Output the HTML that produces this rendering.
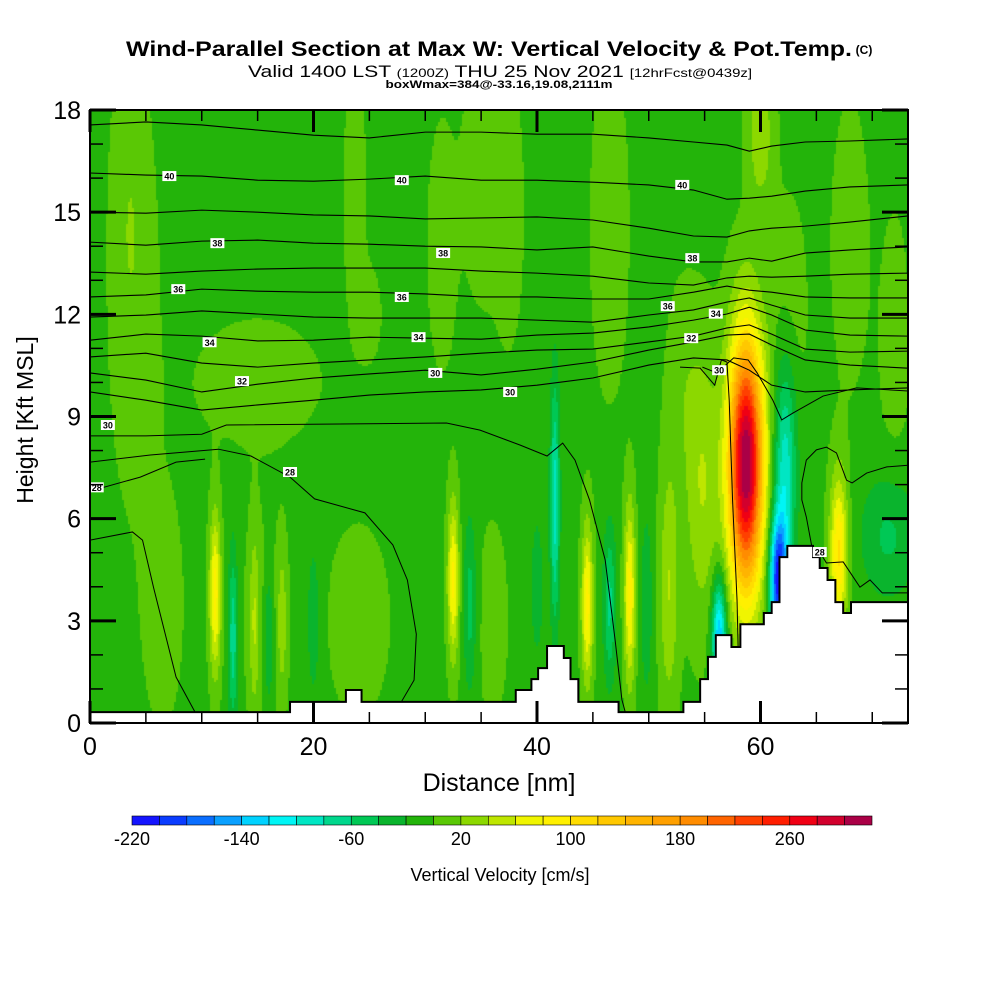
<!DOCTYPE html>
<html><head><meta charset="utf-8">
<style>
html,body{margin:0;padding:0;background:#fff;}
#wrap{position:relative;width:1000px;height:1000px;overflow:hidden;font-family:"Liberation Sans",sans-serif;}
#field{position:absolute;left:90px;top:110px;}
#ov{position:absolute;left:0;top:0;}
</style></head>
<body>
<div id="wrap">
<canvas id="field" width="818" height="613"></canvas>
<svg id="ov" width="1000" height="1000" xmlns="http://www.w3.org/2000/svg">
<text x="489" y="56" text-anchor="middle" font-size="21" font-weight="bold" textLength="726" lengthAdjust="spacingAndGlyphs">Wind-Parallel Section at Max W: Vertical Velocity &amp; Pot.Temp.</text>
<text x="864" y="54" text-anchor="middle" font-size="12" font-weight="bold">(C)</text>
<text x="500" y="77" text-anchor="middle" font-size="17" textLength="504" lengthAdjust="spacingAndGlyphs">Valid 1400 LST <tspan font-size="12">(1200Z)</tspan> THU 25 Nov 2021 <tspan font-size="12">[12hrFcst@0439z]</tspan></text>
<text x="499" y="88" text-anchor="middle" font-size="11" font-weight="bold" textLength="227" lengthAdjust="spacingAndGlyphs">boxWmax=384@-33.16,19.08,2111m</text>
<g id="plot" clip-path="url(#pc)"></g>
<clipPath id="pc"><rect x="90" y="110" width="818" height="613"/></clipPath>
<g id="axes"></g>
<text transform="translate(33,420) rotate(-90)" text-anchor="middle" font-size="23">Height [Kft MSL]</text>
<text x="499" y="791" text-anchor="middle" font-size="25">Distance [nm]</text>
<g id="cbar"></g>
<text x="500" y="881" text-anchor="middle" font-size="18">Vertical Velocity [cm/s]</text>
</svg>
</div>
<script>
// ---- data ----
const xTicks=[0,20,40,60];
const yTicks=[0,3,6,9,12,15,18];
const cbarLevels=[-220,-200,-180,-160,-140,-120,-100,-80,-60,-40,-20,0,20,40,60,80,100,120,140,160,180,200,220,240,260,280,300,320];
const cbarLabels=[-220,-140,-60,20,100,180,260];
const palette=["#1414ff","#0a3cff","#0a6eff","#0aa0ff","#00d2ff","#00f5f5","#00e6c3","#00d78c","#00c855","#0ab42d","#23b40a","#5ac805","#8cd800","#bee600","#f0f500","#fff000","#ffdc00","#ffc800","#ffb400","#ffa000","#ff8c00","#ff6400","#ff4000","#ff1e00","#f00014","#d2002d","#aa0046"];
const baseW=-5;
// features: x nm, z kft, sx, sz, amplitude cm/s
const featX=[3.5,4,23.7,25,31.5,35,15,37.5,46.5,60,62.5,68,72,53, 6.5,15.5,24,36, 11.2,14.7,17.2,32.5,44.5,48.3,51.8,54.8, 12.8,16,20,34,41.6,40,46.5,49.8, 58.7,61.6,62.2,56.3,67,71.5];
const featZ=[15.5,12,15.5,12,14,16,10,15,14.5,17.3,12,14,11,10, 3.5,3,3,3, 3.8,3,3,4.2,3.5,3.8,4,7, 2.5,2.5,3,3.5,6.5,4,3.5,3.5, 7.6,4.2,7.5,2.5,5,5.5];
const featSX=[1.0,1.5,0.7,0.8,0.9,1.2,4,1.0,1.2,0.8,1.2,1.2,1.0,1.0, 1.3,1.5,2,1.2, 0.35,0.3,0.3,0.35,0.35,0.35,0.6,1.1, 0.3,0.3,0.5,0.4,0.3,0.4,0.4,0.4, 1.1,0.55,0.7,0.45,0.55,1.8];
const featSZ=[3,4,2.5,1,2.5,2.5,1.3,3,3.5,1.5,2.5,3,3,2, 2.5,2.5,2,2.5, 1.6,1.8,1.5,1.6,1.6,1.8,2.5,2.8, 1.8,1.5,2,1.8,2.5,1.5,1.6,2, 2.6,1.3,2.2,1.2,1.6,1.3];
const featA=[15,15,15,12,15,15,14,12,15,40,14,14,12,15, 14,10,14,10, 95,40,35,90,95,95,45,45, -70,-40,-25,-45,-85,-30,-60,-30, 330,-200,-90,-140,110,-40];
// terrain steps
const terrEdges=[0,17.9,22.9,24.3,38.1,39.5,40.1,40.9,42.4,43.0,43.7,47.3,53.1,54.6,55.3,56.0,57.4,58.2,60.3,61.0,61.7,62.4,64.7,65.3,66.0,66.7,67.4,68.1,73.2];
const terrZ=[0.32,0.62,0.97,0.62,0.97,1.29,1.61,2.26,1.91,1.29,0.62,0.32,0.62,1.29,1.94,2.58,2.23,2.90,3.23,3.55,4.87,5.20,4.87,4.55,4.20,3.55,3.23,3.55];
// theta contours on common grid
const thX=[0,5,10,15,20,25,30,35,40,45,50,54,57,59,61,64,68,73.2];
const th1=[17.56,17.65,17.56,17.41,17.26,17.18,17.35,17.35,17.29,17.29,17.18,17.06,16.97,16.79,16.94,17.06,17.09,17.15];
const th2=[16.15,16.09,16.06,15.94,15.91,15.97,16.06,15.94,15.94,15.88,15.80,15.65,15.38,15.41,15.47,15.62,15.74,15.80];
const th3=[15.00,14.97,15.06,15.00,14.92,14.89,14.80,14.83,14.86,14.77,14.53,14.30,14.27,14.45,14.53,14.59,14.71,14.89];
const th4=[14.12,14.03,14.15,14.18,14.09,14.06,14.00,13.98,13.89,13.98,13.71,13.54,13.54,13.65,13.56,13.80,13.89,13.98];
const th5=[13.24,13.18,13.27,13.33,13.36,13.36,13.36,13.27,13.21,13.12,12.92,12.86,13.07,13.12,13.09,13.12,13.18,13.21];
const th6=[12.51,12.57,12.74,12.68,12.65,12.65,12.60,12.51,12.51,12.45,12.45,12.65,12.83,12.71,12.65,12.51,12.48,12.48];
const th7=[11.92,11.98,12.10,12.01,11.92,11.89,11.89,11.89,11.83,11.77,11.98,12.13,12.36,12.48,12.27,11.98,11.89,11.89];
const th8=[11.24,11.42,11.36,11.22,11.24,11.33,11.30,11.27,11.39,11.45,11.63,11.83,12.01,12.21,11.98,11.54,11.39,11.36];
const th9=[10.75,10.86,10.57,10.45,10.57,10.66,10.75,10.86,10.95,10.98,11.19,11.36,11.60,11.69,11.42,10.98,10.89,10.92];
const th10=[10.28,10.07,9.72,9.95,10.13,10.25,10.36,10.22,10.39,10.60,10.95,11.19,11.39,11.42,11.10,10.66,10.51,10.42];
const th11=[9.72,9.48,9.19,9.34,9.48,9.63,9.72,9.78,9.92,10.13,10.51,10.72,10.66,10.36,9.92,9.72,9.78,9.84];
// free-form lower contours
const l14x=[0,5.0,10.0,12.2,31.9,34.9,38.5,40.9,42.3,43.4,44.7,46.1,47.0,47.6,47.9];
const l14z=[8.43,8.43,8.48,8.75,8.81,8.60,8.16,7.84,8.22,7.72,6.55,4.79,2.41,0.68,0.32];
const l15x=[0,5.4,11.5,14.4,17.9,20.1,24.6,27.1,28.4,29.2,29.0,27.7,26.8];
const l15z=[7.66,7.87,8.04,7.84,7.22,6.58,6.17,5.23,4.20,2.61,1.26,0.53,0.32];
const l16x=[0,4.5,7.7,10.3];
const l16z=[6.81,7.22,7.66,7.75];
const l17x=[0,3.8,4.7,5.7,7.7,9.4];
const l17z=[5.37,5.61,5.37,3.96,1.35,0.32];
const l19x=[73.2,71.3,69.5,68.2,67.7,66.8,65.9,65.0,64.1,63.7,63.7,64.1,64.6];
const l19z=[7.57,7.52,7.34,7.05,7.13,7.93,8.10,8.02,7.72,7.05,6.55,6.05,5.17];
const l20x=[65.3,65.9,67.4,68.9,69.8,70.9,73.2];
const l20z=[5.02,4.70,4.73,3.99,4.20,3.82,3.82];
const l21x=[52.8,54.6,55.9,56.5,57.0,57.2,57.5,57.9,58.0];
const l21z=[10.45,10.42,9.92,10.66,10.60,9.48,6.55,3.61,2.20];
const l22x=[54.8,56.1,57.6,58.9,59.7,61.1,61.9,62.9,65.6,68.6,73.2];
const l22z=[10.45,10.28,10.72,10.66,10.28,9.48,8.90,9.10,9.60,9.84,9.75];
const lblText=["40","40","40","38","38","38","36","36","36","34","34","34","32","32","30","30","30","30","28","28","28"];
const lblX=[7.1,27.9,53.0,11.4,31.6,53.9,7.9,27.9,51.7,10.7,29.4,56.0,13.6,53.8,30.9,37.6,56.3,1.6,0.6,17.9,65.3];
const lblZ=[16.06,15.94,15.80,14.09,13.80,13.65,12.74,12.51,12.24,11.18,11.33,12.02,10.04,11.30,10.28,9.72,10.36,8.75,6.92,7.37,5.02];

// ---- scales ----
const X0=90,X1=908,Y0=723,Y1=110,XMAX=73.2,ZMAX=18;
const sx=v=>X0+v/XMAX*(X1-X0);
const sy=v=>Y0-v/ZMAX*(Y0-Y1);
const NS="http://www.w3.org/2000/svg";
function mk(tag,attrs,parent){const e=document.createElementNS(NS,tag);for(const k in attrs)e.setAttribute(k,attrs[k]);parent.appendChild(e);return e;}

// ---- field ----
function wAt(x,z){let v=baseW;for(let i=0;i<featX.length;i++){const dx=(x-featX[i])/featSX[i],dz=(z-featZ[i])/featSZ[i];v+=featA[i]*Math.exp(-0.5*(dx*dx+dz*dz));}return v;}
const cv=document.getElementById('field');const ctx=cv.getContext('2d');
const cell=2;
for(let py=0;py<613;py+=cell){for(let px=0;px<818;px+=cell){
 const x=(px+cell/2)/818*XMAX,z=(613-py-cell/2)/613*ZMAX;
 let idx=Math.floor((wAt(x,z)-cbarLevels[0])/20);idx=Math.max(0,Math.min(palette.length-1,idx));
 ctx.fillStyle=palette[idx];ctx.fillRect(px,py,cell,cell);}}

const plot=document.getElementById('plot');
const thLines=[th1,th2,th3,th4,th5,th6,th7,th8,th9,th10,th11];
thLines.forEach((arr,k)=>{
 const p=mk('polyline',{points:arr.map((z,i)=>sx(thX[i])+','+sy(z)).join(' '),fill:'none',stroke:'#000','stroke-width':1.1},plot);
 
 
});
const free=[[l14x,l14z],[l15x,l15z],[l16x,l16z],[l17x,l17z],[l19x,l19z],[l20x,l20z],[l21x,l21z],[l22x,l22z]];
free.forEach((pr,k)=>{
 const p=mk('polyline',{points:pr[0].map((x,i)=>sx(x)+','+sy(pr[1][i])).join(' '),fill:'none',stroke:'#000','stroke-width':1},plot);
 
 
});
let tp=[];for(let i=0;i<terrZ.length;i++){tp.push(sx(terrEdges[i])+','+sy(terrZ[i]));tp.push(sx(terrEdges[i+1])+','+sy(terrZ[i]));}
const tpoly=mk('polygon',{points:sx(0)+','+Y0+' '+tp.join(' ')+' '+sx(XMAX)+','+Y0,fill:'#fff',stroke:'none'},plot);


const tline=mk('polyline',{points:tp.join(' '),fill:'none',stroke:'#000','stroke-width':2},plot);


lblText.forEach((t,i)=>{
 const g=mk('g',{},plot);
 
 
 mk('rect',{x:sx(lblX[i])-7,y:sy(lblZ[i])-5,width:14,height:10,fill:'#fff'},g);
 const tx=mk('text',{x:sx(lblX[i]),y:sy(lblZ[i])+3.5,'font-size':9,'font-weight':'bold','text-anchor':'middle'},g);tx.textContent=t;
});

// ---- axes ----
const ax=document.getElementById('axes');
const fr=mk('rect',{x:X0,y:Y1,width:X1-X0,height:Y0-Y1,fill:'none',stroke:'#000','stroke-width':2},ax);


for(let v=0;v<=XMAX;v+=5){const maj=v%20===0,L=maj?22:11;
 mk('line',{x1:sx(v),x2:sx(v),y1:Y0,y2:Y0-L,stroke:'#000','stroke-width':maj?3:1.5},ax);
 mk('line',{x1:sx(v),x2:sx(v),y1:Y1,y2:Y1+L,stroke:'#000','stroke-width':maj?3:1.5},ax);}
for(let v=0;v<=ZMAX;v+=1){const maj=v%3===0,L=maj?26:13;
 mk('line',{x1:X0,x2:X0+L,y1:sy(v),y2:sy(v),stroke:'#000','stroke-width':maj?3:1.5},ax);
 mk('line',{x1:X1,x2:X1-L,y1:sy(v),y2:sy(v),stroke:'#000','stroke-width':maj?3:1.5},ax);}
xTicks.forEach(v=>{const t=mk('text',{x:sx(v),y:755,'font-size':25,'text-anchor':'middle'},ax);t.textContent=v;
 
 });
yTicks.forEach(v=>{const t=mk('text',{x:81,y:sy(v)+9,'font-size':25,'text-anchor':'end'},ax);t.textContent=v;
 
 });

// ---- colorbar ----
const cb=document.getElementById('cbar');
const CB0=132,CB1=872,bw=(CB1-CB0)/palette.length;
palette.forEach((c,i)=>{const r=mk('rect',{x:CB0+i*bw,y:816,width:bw,height:9,fill:c,stroke:'#000','stroke-width':0.6},cb);
 
 });
const cbx=v=>CB0+(v-cbarLevels[0])/20*bw;
cbarLabels.forEach(v=>{const t=mk('text',{x:cbx(v),y:845,'font-size':18,'text-anchor':'middle'},cb);t.textContent=v;
 
 });
</script>
</body></html>
